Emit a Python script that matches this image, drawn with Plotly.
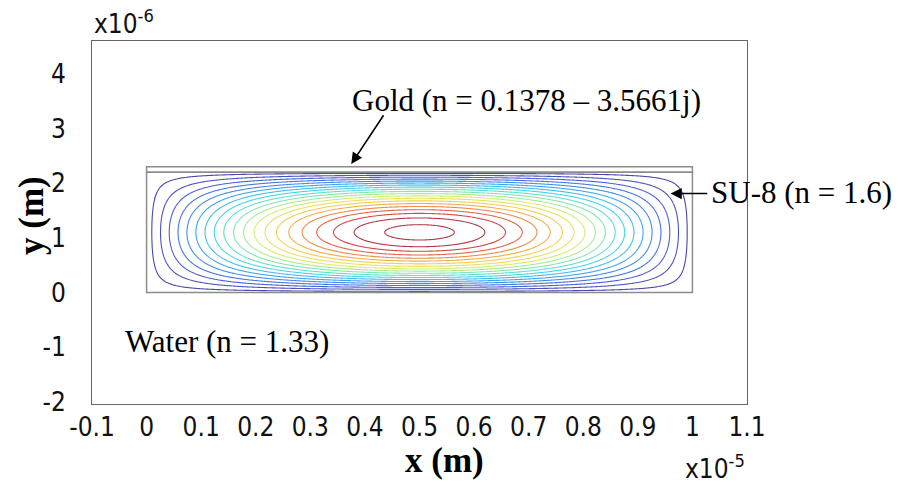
import numpy as np
import plotly.graph_objects as go

# Geometry of the waveguide cross-section (x in units of 1e-5 m, y in units of 1e-6 m)
SU8_WIDTH = 1.0
SU8_HEIGHT = 2.2
GOLD_THICKNESS = 0.1

# Axis ranges and tick labels
X_RANGE = [-0.1, 1.1]
Y_RANGE = [-2.04, 4.6]
X_TICKS = [-0.1, 0, 0.1, 0.2, 0.3, 0.4, 0.5, 0.6, 0.7, 0.8, 0.9, 1, 1.1]
X_TICK_TEXT = ["-0.1", "0", "0.1", "0.2", "0.3", "0.4", "0.5", "0.6", "0.7", "0.8", "0.9", "1", "1.1"]
Y_TICKS = [-2, -1, 0, 1, 2, 3, 4]
Y_TICK_TEXT = ["-2", "-1", "0", "1", "2", "3", "4"]

# Contour levels of the normalised mode field
LEVEL_START = 0.03
LEVEL_END = 0.98
LEVEL_STEP = 0.05

# Fundamental mode field inside the SU-8 core
xs = np.linspace(0, SU8_WIDTH, 401)
ys = np.linspace(0, SU8_HEIGHT, 241)
X, Y = np.meshgrid(xs, ys)
field = np.sin(np.pi * X / SU8_WIDTH) * np.sin(np.pi * Y / SU8_HEIGHT)

jet_light = [
    [0.0, "#4848ae"],
    [0.12, "#4c62d8"],
    [0.27, "#40a2f0"],
    [0.40, "#48dae8"],
    [0.52, "#92e8a8"],
    [0.62, "#dcef6a"],
    [0.72, "#f5d050"],
    [0.82, "#f09848"],
    [0.92, "#e05048"],
    [1.0, "#b03848"],
]

fig = go.Figure()
fig.add_trace(go.Contour(
    x=xs, y=ys, z=field,
    contours=dict(coloring="lines", start=LEVEL_START, end=LEVEL_END, size=LEVEL_STEP),
    colorscale=jet_light, zmin=LEVEL_START, zmax=LEVEL_END,
    line=dict(width=1.1, smoothing=1),
    showscale=False, hoverinfo="skip",
))

serif = "Liberation Serif"
tick_font = dict(family="DejaVu Sans Condensed, DejaVu Sans", size=26, color="#111")

# SU-8 core outline and gold cladding on top
fig.add_shape(type="rect", x0=0, x1=SU8_WIDTH, y0=0, y1=SU8_HEIGHT,
              line=dict(color="#8c8c8c", width=1.5))
fig.add_shape(type="rect", x0=0, x1=SU8_WIDTH, y0=SU8_HEIGHT, y1=SU8_HEIGHT + GOLD_THICKNESS,
              line=dict(color="#8c8c8c", width=1.5))

label_font = dict(family=serif, size=31, color="black")
fig.add_annotation(x=0.696, y=3.52, text="Gold (n = 0.1378 – 3.5661j)", showarrow=False,
                   font=label_font, xanchor="center", yanchor="middle")
fig.add_annotation(x=0.375, y=SU8_HEIGHT + GOLD_THICKNESS + 0.05, ax=0.436, ay=3.27,
                   axref="x", ayref="y", text="", showarrow=True,
                   arrowhead=2, arrowsize=1.4, arrowwidth=1.6, arrowcolor="black")
fig.add_annotation(x=1.03, y=1.82, text="SU-8 (n = 1.6)", showarrow=False,
                   font=label_font, xanchor="left", yanchor="middle")
fig.add_annotation(x=0.96, y=1.81, ax=1.03, ay=1.81,
                   axref="x", ayref="y", text="", showarrow=True,
                   arrowhead=2, arrowsize=1.4, arrowwidth=1.6, arrowcolor="black")
fig.add_annotation(x=0.148, y=-0.9, text="Water (n = 1.33)", showarrow=False,
                   font=label_font, xanchor="center", yanchor="middle")

# Axis titles and exponent labels
fig.add_annotation(xref="paper", yref="paper", x=0.538, y=-0.155, text="<b>x (m)</b>",
                   showarrow=False, font=dict(family=serif, size=35, color="black"),
                   xanchor="center", yanchor="middle")
fig.add_annotation(xref="paper", yref="paper", x=-0.092, y=0.52, text="<b>y (m)</b>",
                   showarrow=False, textangle=-90, font=dict(family=serif, size=35, color="black"),
                   xanchor="center", yanchor="middle")
fig.add_annotation(xref="paper", yref="paper", x=0.0, y=1.0, text="x10<sup>-6</sup>",
                   showarrow=False, font=tick_font, xanchor="left", yanchor="bottom")
fig.add_annotation(xref="paper", yref="paper", x=1.0, y=-0.12, text="x10<sup>-5</sup>",
                   showarrow=False, font=tick_font, xanchor="right", yanchor="top")

axis_common = dict(showgrid=False, zeroline=False, showline=True, mirror=True,
                   linecolor="#666666", linewidth=1, ticks="", tickfont=tick_font)
fig.update_xaxes(range=X_RANGE, tickvals=X_TICKS, ticktext=X_TICK_TEXT,
                 ticklabelstandoff=0, **axis_common)
fig.update_yaxes(range=Y_RANGE, tickvals=Y_TICKS, ticktext=Y_TICK_TEXT,
                 ticklabelstandoff=20, **axis_common)

fig.update_layout(width=898, height=486, margin=dict(l=92, r=151, t=41, b=82),
                  paper_bgcolor="white", plot_bgcolor="white", showlegend=False)

fig.write_html("out.html")
